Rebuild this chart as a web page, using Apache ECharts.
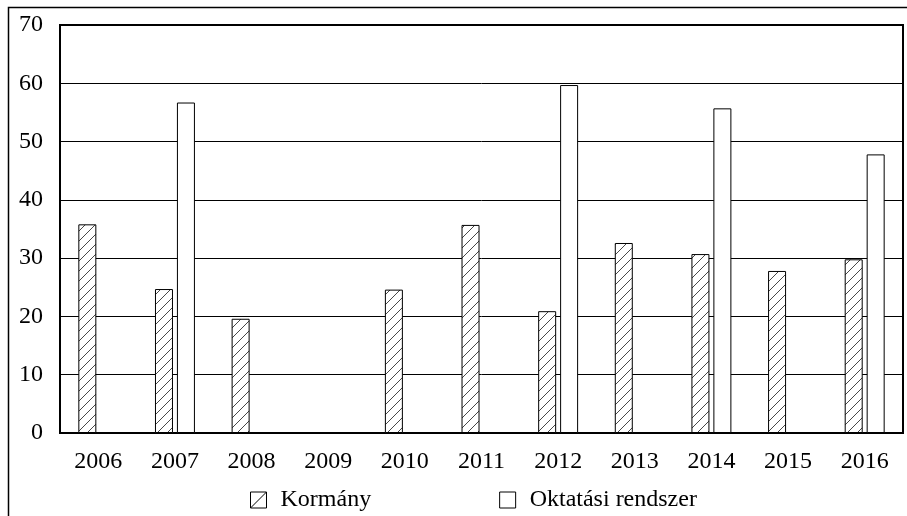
<!DOCTYPE html>
<html>
<head>
<meta charset="utf-8">
<script src="https://cdn.jsdelivr.net/npm/echarts@6/dist/echarts.min.js"></script>
<style>
html,body{margin:0;padding:0;background:#fff;}
#chart{width:907px;height:516px;}
</style>
</head>
<body>
<div id="chart"></div>
<script>
var years = ['2006','2007','2008','2009','2010','2011','2012','2013','2014','2015','2016'];
var kormany = [35.8, 24.7, 19.6, null, 24.6, 35.7, 20.9, 32.6, 30.7, 27.8, 29.8];
var oktatasi = [null, 56.7, null, null, null, null, 59.7, null, 55.7, null, 47.8];
var seriesNames = ['Kormány', 'Oktatási rendszer'];
var yTicks = {min: 0, max: 70, interval: 10};

var FONT = 'Liberation Serif';

function hatchPattern() {
  var c = document.createElement('canvas');
  c.width = 10; c.height = 10;
  var ctx = c.getContext('2d');
  ctx.fillStyle = '#fff';
  ctx.fillRect(0, 0, 10, 10);
  ctx.strokeStyle = '#333';
  ctx.lineWidth = 0.9;
  ctx.beginPath();
  ctx.moveTo(-1, 11); ctx.lineTo(11, -1);
  ctx.stroke();
  return c;
}

var chart = echarts.init(document.getElementById('chart'), null, {renderer: 'canvas'});
chart.setOption({
  animation: false,
  backgroundColor: '#fff',
  textStyle: {fontFamily: FONT, color: '#000'},
  graphic: [{
    type: 'polyline',
    shape: {points: [[8.5, 516], [8.5, 7.5], [907, 7.5]]},
    style: {stroke: '#000', lineWidth: 1.5, fill: null}
  }],
  grid: {
    left: 60, right: 4, top: 25, bottom: 83,
    show: true, borderColor: '#000', borderWidth: 2, backgroundColor: 'transparent'
  },
  legend: {
    top: 483,
    left: 245,
    itemWidth: 16,
    itemHeight: 16,
    itemGap: 128,
    textStyle: {fontFamily: FONT, fontSize: 24, color: '#000', padding: [0, 0, 0, 9]},
    data: [
      {name: seriesNames[0], icon: 'path://M0 0H16V16H0Z M0 16L16 0',
       itemStyle: {color: '#fff', borderColor: '#000', borderWidth: 1}},
      {name: seriesNames[1], icon: 'rect',
       itemStyle: {color: '#fff', borderColor: '#000', borderWidth: 1}}
    ]
  },
  xAxis: {
    type: 'category',
    data: years,
    axisLine: {lineStyle: {color: '#000', width: 2}},
    axisTick: {show: false},
    axisLabel: {fontFamily: FONT, fontSize: 24, color: '#000', margin: 17},
    splitLine: {show: false}
  },
  yAxis: {
    type: 'value',
    min: yTicks.min, max: yTicks.max, interval: yTicks.interval,
    axisLine: {show: true, lineStyle: {color: '#000', width: 2}},
    axisTick: {show: false},
    axisLabel: {fontFamily: FONT, fontSize: 24, color: '#000', margin: 17,
                verticalAlign: 'middle', padding: [6, 0, 0, 0]},
    splitLine: {lineStyle: {color: '#000', width: 1}}
  },
  series: [
    {
      name: seriesNames[0], type: 'bar', data: kormany,
      barWidth: 18, barGap: '22%',
      itemStyle: {color: {image: hatchPattern(), repeat: 'repeat'}, borderColor: '#000', borderWidth: 1}
    },
    {
      name: seriesNames[1], type: 'bar', data: oktatasi,
      barWidth: 18,
      itemStyle: {color: '#fff', borderColor: '#000', borderWidth: 1}
    }
  ]
});
</script>
</body>
</html>
